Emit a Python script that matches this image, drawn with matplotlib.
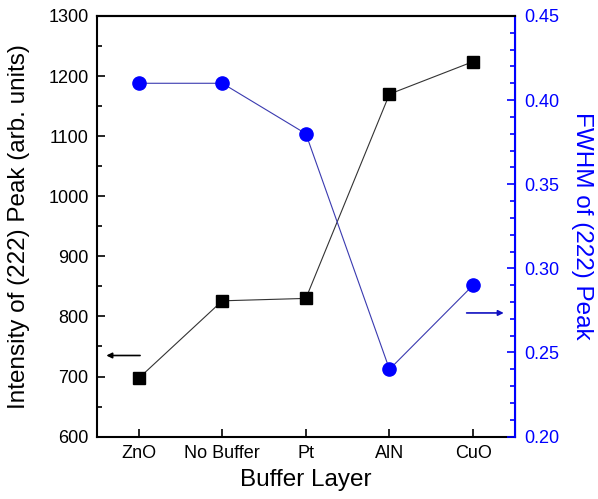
import matplotlib.pyplot as plt
from matplotlib.ticker import MultipleLocator

plt.rcParams['font.family'] = ['Liberation Sans', 'DejaVu Sans']

layers = ['ZnO', 'No Buffer', 'Pt', 'AlN', 'CuO']
intensity = [697, 826, 830, 1170, 1224]
fwhm = [0.41, 0.41, 0.38, 0.24, 0.29]

BLUE = '#0000ff'
xs = list(range(len(layers)))

fig = plt.figure(figsize=(5.98, 4.99), dpi=100)
ax = fig.add_axes([0.162, 0.125, 0.699, 0.843])
ax2 = ax.twinx()

ax.plot(xs, intensity, '-', color='#333333', lw=0.8, zorder=2)
ax.plot(xs, intensity, 's', color='black', ms=8.5, zorder=3)
ax2.plot(xs, fwhm, '-', color='#3a3ab0', lw=0.8, zorder=2)
ax2.plot(xs, fwhm, 'o', color=BLUE, ms=9.5, zorder=3)

ax.set_xlim(-0.5, 4.5)
ax.set_ylim(600, 1300)
ax2.set_ylim(0.20, 0.45)

ax.set_xticks(xs)
ax.set_xticklabels(layers)
ax.yaxis.set_major_locator(MultipleLocator(100))
ax.yaxis.set_minor_locator(MultipleLocator(50))
ax2.yaxis.set_major_locator(MultipleLocator(0.05))
ax2.yaxis.set_minor_locator(MultipleLocator(0.01))
ax2.yaxis.set_major_formatter(lambda v, p: f'{v:.2f}')

ax.tick_params(axis='both', which='major', direction='in', length=6, width=1.2,
               labelsize=13, pad=6)
ax.tick_params(axis='y', which='minor', direction='in', length=3.5, width=1.2)
ax.tick_params(axis='x', which='minor', bottom=False)
ax2.tick_params(axis='y', which='major', direction='in', length=6, width=1.2,
                labelsize=13, colors=BLUE, pad=7)
ax2.tick_params(axis='y', which='minor', direction='in', length=3.5, width=1.2,
                colors=BLUE)

for s in ['left', 'bottom', 'top']:
    ax.spines[s].set_linewidth(1.5)
ax2.spines['right'].set_color(BLUE)
ax2.spines['right'].set_linewidth(1.5)
ax2.spines['left'].set_visible(False)
ax2.spines['top'].set_linewidth(1.5)
ax2.spines['bottom'].set_visible(False)

ax.set_xlabel('Buffer Layer', fontsize=17.5, labelpad=5)
ax.set_ylabel('Intensity of (222) Peak (arb. units)', fontsize=17.5,
              labelpad=13)
ax2.set_ylabel('FWHM of (222) Peak', fontsize=17.5, color=BLUE, rotation=270,
               labelpad=24)

ax.annotate('', xy=(-0.42, 735), xytext=(0.05, 735),
            arrowprops=dict(arrowstyle='-|>', color='black', lw=1.2,
                            mutation_scale=8))
ax2.annotate('', xy=(4.40, 0.2735), xytext=(3.89, 0.2735),
             arrowprops=dict(arrowstyle='-|>', color='#1010c0', lw=1.2,
                             mutation_scale=8))

fig.savefig('out.png', dpi=100)
